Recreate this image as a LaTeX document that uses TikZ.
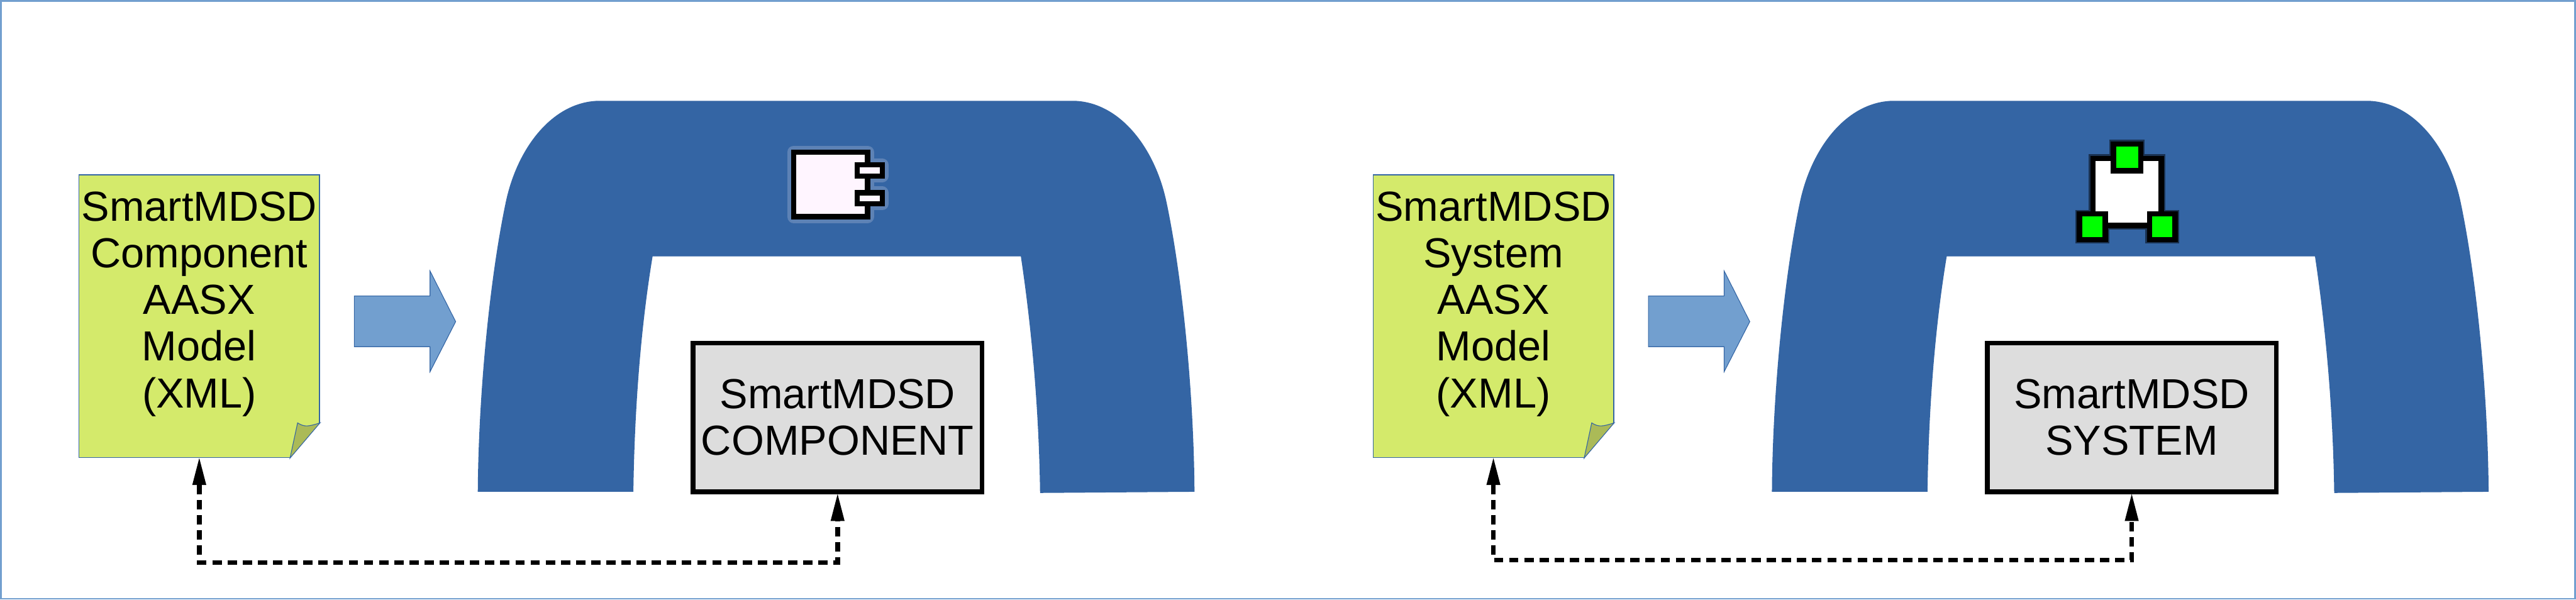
\documentclass[tikz,border=0pt]{standalone}
\usepackage{fontspec}
\setmainfont{Liberation Sans}
\usetikzlibrary{calc,arrows.meta}
\definecolor{archblue}{HTML}{3465A4}
\definecolor{flowblue}{HTML}{729FCF}
\definecolor{haloblue}{HTML}{5D82B5}
\definecolor{notelime}{HTML}{D4EA6B}
\definecolor{foldlime}{HTML}{ABBA57}
\definecolor{boxgray}{HTML}{DDDDDD}
\definecolor{iconpink}{HTML}{FFF5FF}
\newcommand{\archshape}{
  \fill[archblue] (8.20,1.85) .. controls (8.21,3.49) and (8.40,5.49) .. (8.68,6.82)
    .. controls (8.88,7.77) and (9.50,8.56) .. (10.30,8.56) -- (18.40,8.56)
    .. controls (19.20,8.56) and (19.82,7.77) .. (20.02,6.82)
    .. controls (20.30,5.49) and (20.49,3.49) .. (20.50,1.85) -- (17.85,1.83)
    .. controls (17.83,3.29) and (17.70,4.69) .. (17.52,5.89) -- (11.20,5.89)
    .. controls (11.00,4.69) and (10.89,3.29) .. (10.87,1.85) -- cycle;
}
\newcommand{\flowarrow}{
  \draw[draw=archblue, line width=.012cm, fill=flowblue, line join=miter] (6.08,5.21) -- (7.38,5.21) -- (7.38,5.64)
    -- (7.82,4.77) -- (7.38,3.91) -- (7.38,4.34) -- (6.08,4.34) -- cycle;
}
\newcommand{\dogear}[1]{
  \fill[white] ($(#1.south east)+(-.515,0)$) -- ($(#1.south east)+(0,.605)$)
    -- ($(#1.south east)+(.03,-.03)$) -- cycle;
  \draw[draw=archblue, line width=.012cm, fill=foldlime] ($(#1.south east)+(-.515,0)$) -- ($(#1.south east)+(0,.605)$)
    .. controls ($(#1.south east)+(-.2,.54)$) and ($(#1.south east)+(-.27,.53)$) .. ($(#1.south east)+(-.385,.605)$) -- cycle;
}

\begin{document}
\begin{tikzpicture}[
    note/.style={draw=archblue, line width=.015cm, fill=notelime, minimum width=4.13cm, minimum height=4.855cm, inner sep=0pt},
    notetext/.style={font=\fontsize{20.5pt}{22.8pt}\selectfont, align=center, inner sep=0pt},
    modelbox/.style={draw=black, line width=.08cm, fill=boxgray, minimum width=4.96cm, minimum height=2.55cm,
                     inner sep=0pt, align=center, font=\fontsize{20.5pt}{22.8pt}\selectfont},
    link/.style={{Triangle[length=4.6mm,width=2.4mm,line width=0pt]}-{Triangle[length=4.6mm,width=2.4mm,line width=0pt]},
                 line width=.08cm, dash pattern=on .16cm off .10cm},
    iconline/.style={draw=black, line width=.09cm},
    halo/.style={draw=haloblue, line width=.22cm, line join=round},
    fringe/.style={draw=black!50!archblue, line width=.14cm},
  ]
    \useasboundingbox (0,0) rectangle (44.21,10.29);
    \draw[flowblue, line width=.03cm] (.015,.015) rectangle (44.195,10.275);

    % component side
    \archshape
    \flowarrow
    \node[note] (cmpnote) at (3.42,4.863) {};
    \dogear{cmpnote}
    \node[notetext] (cmptext) at ($(cmpnote.center)+(0,.21)$) {SmartMDSD\\Component\\AASX\\Model\\(XML)};
    \node[modelbox] (cmpbox) at (14.375,3.125) {SmartMDSD\\COMPONENT};
    \coordinate (cmpdrop) at ($(cmpnote.south)+(0,-1.795)$);
    \draw[link] (cmpnote.south) -- (cmpdrop) -| (cmpbox.south);

    % component icon
    \draw[halo] (13.62,6.57) rectangle (14.89,7.68);
    \draw[halo] (14.71,7.27) rectangle (15.14,7.46);
    \draw[halo] (14.71,6.79) rectangle (15.14,6.98);
    \draw[iconline, fill=iconpink] (13.62,6.57) rectangle (14.89,7.68);
    \draw[iconline, fill=iconpink] (14.71,7.27) rectangle (15.14,7.46);
    \draw[iconline, fill=iconpink] (14.71,6.79) rectangle (15.14,6.98);

    % system side
    \begin{scope}[xshift=22.21cm]
      \archshape
      \flowarrow
    \end{scope}
    \node[note] (sysnote) at (25.63,4.863) {};
    \dogear{sysnote}
    \node[notetext] (systext) at ($(sysnote.center)+(0,.21)$) {SmartMDSD\\System\\AASX\\Model\\(XML)};
    \node[modelbox] (sysbox) at (36.585,3.125) {SmartMDSD\\SYSTEM};
    \coordinate (sysdrop) at ($(sysnote.south)+(0,-1.75)$);
    \draw[link] (sysnote.south) -- (sysdrop) -| (sysbox.south);

    % system icon
    \draw[fringe] (35.92,6.42) rectangle (37.09,7.57);
    \draw[fringe] (36.27,7.36) rectangle (36.74,7.82);
    \draw[fringe] (35.69,6.18) rectangle (36.13,6.62);
    \draw[fringe] (36.89,6.18) rectangle (37.33,6.62);
    \draw[iconline, fill=white] (35.92,6.42) rectangle (37.09,7.57);
    \draw[iconline, fill=green] (36.27,7.36) rectangle (36.74,7.82);
    \draw[iconline, fill=green] (35.69,6.18) rectangle (36.13,6.62);
    \draw[iconline, fill=green] (36.89,6.18) rectangle (37.33,6.62);
\end{tikzpicture}
\end{document}
